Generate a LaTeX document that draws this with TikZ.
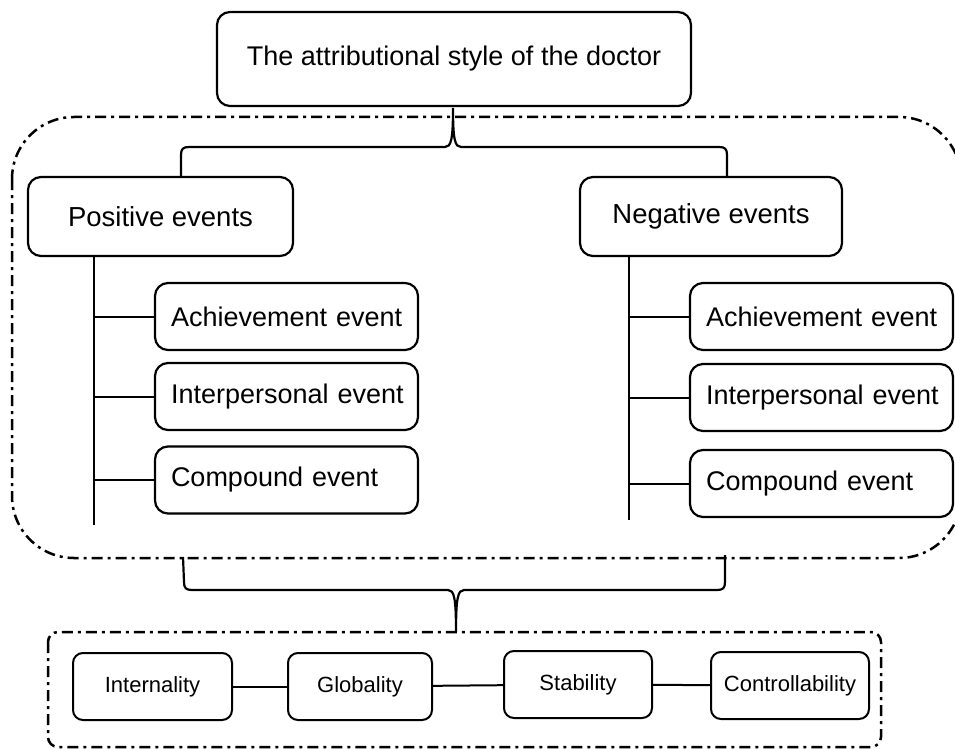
\documentclass[tikz,border=0pt]{standalone}
\usepackage{fontspec}
\setmainfont{Liberation Sans}
\begin{document}
\begin{tikzpicture}[x=1pt,y=-1pt,
  box/.style={draw, line width=2.2pt, rounded corners=13pt, inner sep=0pt,
    font=\fontsize{27.5}{31}\selectfont},
  subbox/.style={box, font=\fontsize{27}{31}\selectfont, minimum height=67pt, inner xsep=4pt,
    text width=255pt, align=left, execute at begin node={\hspace*{12pt}}},
  sbox/.style={draw, line width=2pt, rounded corners=10pt, inner sep=0pt,
    minimum height=67pt, font=\fontsize{22}{26}\selectfont},
  ddash/.style={line width=2.5pt, dash pattern=on 11pt off 5pt on 3pt off 5pt},
  conn/.style={line width=2pt},
  bracestyle/.style={line width=2.2pt},
]
\useasboundingbox (0,0) rectangle (955,749);

% outer dash-dot frames
\draw[ddash, rounded corners=62pt] (12,117) rectangle (961,558);
\draw[ddash, rounded corners=10pt] (48,632) rectangle (881,747);

% title
\node[box, minimum width=474pt, minimum height=94pt, font=\fontsize{27}{31}\selectfont] (title) at (454,59) {The attributional style of the doctor};

% level 2
\node[box, minimum width=265pt, minimum height=79pt] (pos) at (160.5,216.5) {Positive events};
\node[box, minimum width=262pt, minimum height=79pt] (neg) at (711,216.5) {Negative events};

% left sub boxes
\node[subbox] (la) at (286.5,316.5) {Achievement event};
\node[subbox] (li) at (286.5,396.5) {Interpersonal event};
\node[subbox] (lc) at (286.5,480) {Compound event};

% right sub boxes
\node[subbox] (ra) at (821.5,316.5) {Achievement event};
\node[subbox] (ri) at (821.5,397.5) {Interpersonal event};
\node[subbox] (rc) at (821.5,483.5) {Compound event};

% bottom boxes
\node[sbox, minimum width=159pt] (int) at (152.5,686.5) {Internality};
\node[sbox, minimum width=144pt] (glo) at (360,686.5) {Globality};
\node[sbox, minimum width=148pt] (sta) at (578,684.5) {Stability};
\node[sbox, minimum width=158pt] (con) at (790,685.5) {Controllability};

% coordinates
\coordinate (lt) at (94,256);
\coordinate (lb) at (94,525);
\coordinate (rt) at (629,256);
\coordinate (rb) at (629,520);
\coordinate (tb1) at (181,177);
\coordinate (tb2) at (727,177);
\coordinate (tapex) at (453,108);
\coordinate (bb1) at (183,557);
\coordinate (bb2) at (725,555);
\coordinate (bapex) at (456,632);

% trunk lines
\draw[conn] (lt) -- (lb);
\draw[conn] (rt) -- (rb);
\foreach \n in {la,li,lc} \draw[conn] (\n.west) -- (\n.west -| lt);
\foreach \n in {ra,ri,rc} \draw[conn] (\n.west) -- (\n.west -| rt);

% bottom connectors
\draw[conn] (int) -- (glo);
\draw[conn] (glo) -- (sta);
\draw[conn] (sta) -- (con);

% top brace
\draw[bracestyle] (tb1) -- (181,155) .. controls (181,149) and (183,147) .. (189,147)
  -- (445,147) .. controls (451,147) and (453,140) .. (tapex)
  .. controls (453,140) and (455,147) .. (461,147)
  -- (719,147) .. controls (725,147) and (727,149) .. (727,155) -- (tb2);

% bottom brace
\draw[bracestyle] (bb1) -- (184,582) .. controls (184,588) and (186,590) .. (192,590)
  -- (448,590) .. controls (454,590) and (456,597) .. (bapex)
  .. controls (456,597) and (458,590) .. (464,590)
  -- (717,590) .. controls (723,590) and (725,588) .. (725,582) -- (bb2);
\end{tikzpicture}
\end{document}
